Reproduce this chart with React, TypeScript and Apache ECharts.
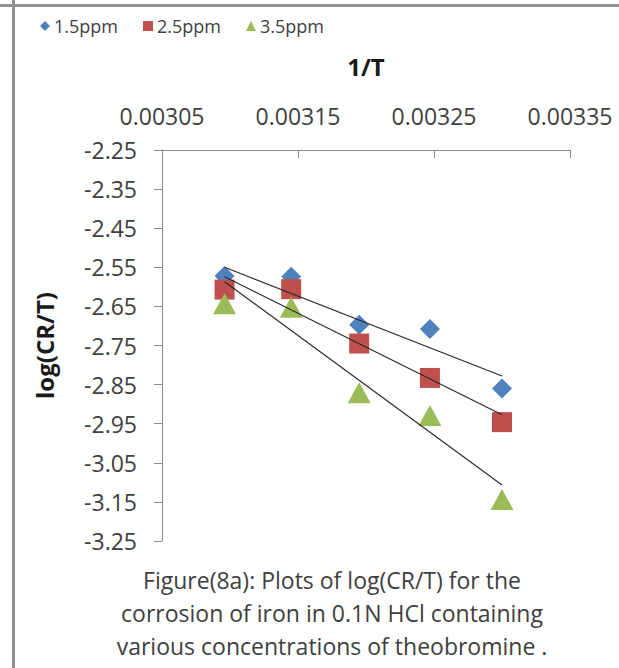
import React, { useEffect, useRef } from "react";
import * as echarts from "echarts";

const invT = [0.003096, 0.003145, 0.003195, 0.003247, 0.0033];
const seriesNames = ["1.5ppm", "2.5ppm", "3.5ppm"];
const ppm15 = [-2.572, -2.574, -2.697, -2.708, -2.86];
const ppm25 = [-2.607, -2.606, -2.745, -2.833, -2.946];
const ppm35 = [-2.643, -2.652, -2.871, -2.929, -3.144];
const trendStart = [-2.55, -2.574, -2.587];
const trendEnd = [-2.828, -2.927, -3.107];
const xTicks = ["0.00305", "0.00315", "0.00325", "0.00335"];
const yTicks = ["-2.25", "-2.35", "-2.45", "-2.55", "-2.65", "-2.75", "-2.85", "-2.95", "-3.05", "-3.15", "-3.25"];
const caption = [
  "Figure(8a): Plots of log(CR/T) for the",
  "corrosion of iron in 0.1N HCl containing",
  "various concentrations of theobromine .",
];

const colors = ["#4F81BD", "#C0504D", "#9BBB59"];
const symbols = ["diamond", "rect", "triangle"];
const symbolSizes: any[] = [[20, 20], [20, 20], [23, 21]];
const font = "'Open Sans', sans-serif";

export default function App() {
  const ref = useRef<HTMLDivElement>(null);
  useEffect(() => {
    document.body.style.margin = "0";
    if (!ref.current) return;
    const chart = echarts.init(ref.current, null, { renderer: "svg" });
    const values = [ppm15, ppm25, ppm35];
    const scatter = values.map((vals, i) => ({
      name: seriesNames[i],
      type: "scatter",
      data: vals.map((v, j) => [invT[j], v]),
      symbol: symbols[i],
      symbolSize: symbolSizes[i],
      itemStyle: { color: colors[i], opacity: 1 },
      z: 2 + i,
    }));
    const trends = trendStart.map((s, i) => ({
      name: "trend" + i,
      type: "line",
      data: [
        [invT[0], s],
        [invT[invT.length - 1], trendEnd[i]],
      ],
      showSymbol: false,
      symbol: "none",
      lineStyle: { color: "#2b2b2b", width: 1.2 },
      z: 10,
      silent: true,
    }));
    const yMin = Number(yTicks[yTicks.length - 1]);
    const yMax = Number(yTicks[0]);
    const xMin = Number(xTicks[0]);
    const xMax = Number(xTicks[xTicks.length - 1]);
    chart.setOption({
      animation: false,
      backgroundColor: "#ffffff",
      textStyle: { fontFamily: font },
      grid: { left: 162, top: 150, right: 49, bottom: 127, containLabel: false },
      legend: {
        data: seriesNames.map((n, i) => ({ name: n, icon: symbols[i] })),
        left: 35,
        top: 12,
        itemWidth: 10,
        itemHeight: 10,
        itemGap: 25,
        textStyle: { fontFamily: font, fontSize: 18, color: "#404040", padding: [0, 0, 0, -1] },
      },
      xAxis: {
        type: "value",
        position: "top",
        min: xMin,
        max: xMax,
        interval: 0.0001,
        name: "1/T",
        nameLocation: "middle",
        nameGap: 72,
        nameTextStyle: { fontFamily: font, fontSize: 24, fontWeight: "bold", color: "#1a1a1a" },
        axisLine: { onZero: false, lineStyle: { color: "#8c8c8c", width: 1 } },
        axisTick: { inside: true, length: 8, lineStyle: { color: "#8c8c8c" } },
        axisLabel: {
          fontFamily: font,
          fontSize: 23,
          color: "#404040",
          margin: 23,
          formatter: (v: number) => v.toFixed(5),
        },
        splitLine: { show: false },
      },
      yAxis: {
        type: "value",
        min: yMin,
        max: yMax,
        interval: 0.1,
        name: "log(CR/T)",
        nameLocation: "middle",
        nameGap: 106,
        nameTextStyle: { fontFamily: font, fontSize: 24, fontWeight: "bold", color: "#1a1a1a" },
        axisLine: { show: true, onZero: false, lineStyle: { color: "#8c8c8c", width: 1 } },
        axisTick: { show: true, inside: false, length: 8, lineStyle: { color: "#8c8c8c" } },
        axisLabel: {
          fontFamily: font,
          fontSize: 23,
          color: "#404040",
          margin: 25,
          formatter: (v: number) => v.toFixed(2),
        },
        splitLine: { show: false },
      },
      graphic: [
        { type: "rect", shape: { x: 0, y: 4, width: 619, height: 3 }, style: { fill: "#8f8f8f" }, z: 100 },
        { type: "rect", shape: { x: 12, y: 0, width: 3, height: 668 }, style: { fill: "#8f8f8f" }, z: 100 },
        {
          type: "text",
          x: 332,
          y: 563,
          style: {
            text: caption.join("\n"),
            fontFamily: font,
            fontSize: 23,
            lineHeight: 33,
            fill: "#404040",
            align: "center",
            verticalAlign: "top",
          },
        },
      ],
      series: [...scatter, ...trends],
    });
    return () => chart.dispose();
  }, []);
  return <div ref={ref} style={{ width: 619, height: 668 }} />;
}
